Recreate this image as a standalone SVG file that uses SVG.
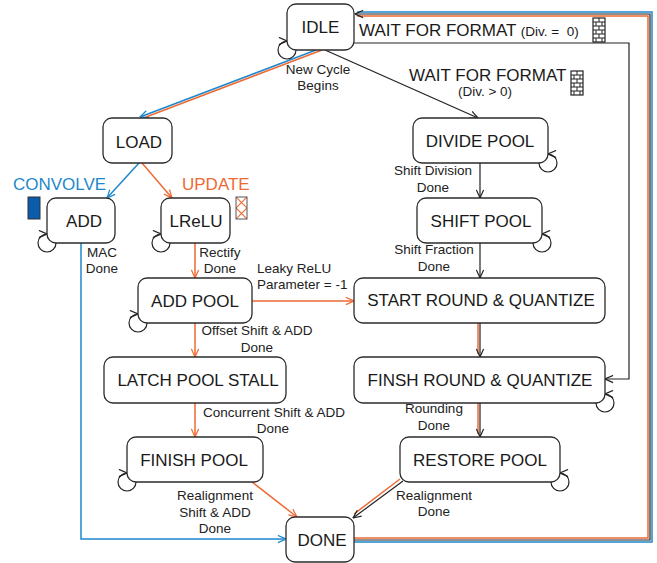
<svg xmlns="http://www.w3.org/2000/svg" width="657" height="563" viewBox="0 0 657 563">
  <style>
    .node rect { fill: #fff; stroke: #2b2b2b; stroke-width: 1.3; }
    .node text { font-family: "Liberation Sans", Arial, sans-serif; font-size: 17px; fill: #1a1a1a; text-anchor: middle; }
    .lbl { font-family: "Liberation Sans", Arial, sans-serif; font-size: 13.5px; fill: #222; text-anchor: middle; }
    .big { font-family: "Liberation Sans", Arial, sans-serif; font-size: 17px; fill: #1a1a1a; }
    .k { fill: none; stroke: #222; stroke-width: 1.2; }
    .b { fill: none; stroke: #1e88cc; stroke-width: 1.5; }
    .o { fill: none; stroke: #ee6a35; stroke-width: 1.5; }
    .brick line { stroke: #222; stroke-width: 1; }
  </style>
  <defs>
    <marker id="ak" viewBox="0 0 10 10" refX="9.5" refY="5" markerWidth="9" markerHeight="9" markerUnits="userSpaceOnUse" orient="auto">
      <path d="M0.5,1 L9.5,5 L0.5,9" fill="none" stroke="#222" stroke-width="1.3"/>
    </marker>
    <marker id="ab" viewBox="0 0 10 10" refX="9.5" refY="5" markerWidth="9" markerHeight="9" markerUnits="userSpaceOnUse" orient="auto">
      <path d="M0.5,1 L9.5,5 L0.5,9" fill="none" stroke="#1e88cc" stroke-width="1.4"/>
    </marker>
    <marker id="ao" viewBox="0 0 10 10" refX="9.5" refY="5" markerWidth="9" markerHeight="9" markerUnits="userSpaceOnUse" orient="auto">
      <path d="M0.5,1 L9.5,5 L0.5,9" fill="none" stroke="#ee6a35" stroke-width="1.4"/>
    </marker>
    <!-- brick-wall badge, 12 x 24 -->
    <g id="brick" class="brick">
      <rect x="0" y="0" width="12" height="24" fill="#fff" stroke="#222" stroke-width="1.2"/>
      <line x1="0" y1="4" x2="12" y2="4"/>
      <line x1="0" y1="8" x2="12" y2="8"/>
      <line x1="0" y1="12" x2="12" y2="12"/>
      <line x1="0" y1="16" x2="12" y2="16"/>
      <line x1="0" y1="20" x2="12" y2="20"/>
      <line x1="6" y1="0" x2="6" y2="4"/>
      <line x1="3" y1="4" x2="3" y2="8"/>
      <line x1="9" y1="4" x2="9" y2="8"/>
      <line x1="6" y1="8" x2="6" y2="12"/>
      <line x1="3" y1="12" x2="3" y2="16"/>
      <line x1="9" y1="12" x2="9" y2="16"/>
      <line x1="6" y1="16" x2="6" y2="20"/>
      <line x1="3" y1="20" x2="3" y2="24"/>
      <line x1="9" y1="20" x2="9" y2="24"/>
    </g>
    <clipPath id="hatchclip"><rect x="236" y="197" width="11" height="22"/></clipPath>
  </defs>

  <!-- connectors -->
  <g id="connectors">
    <!-- IDLE -> LOAD (new cycle) -->
    <line class="b" x1="316" y1="50" x2="140" y2="117" marker-end="url(#ab)"/>
    <line class="o" x1="322" y1="50" x2="146" y2="117"/>
    <!-- IDLE -> DIVIDE POOL -->
    <line class="k" x1="325" y1="50" x2="478" y2="118" marker-end="url(#ak)"/>
    <!-- IDLE -> FINSH ROUND (Div = 0) -->
    <path class="k" d="M354,43 H629 V379 H605" marker-end="url(#ak)"/>
    <!-- DONE -> IDLE return path -->
    <path class="b" d="M354,542 H652 V12 H357"/>
    <path class="o" d="M354,538 H648 V16 H357"/>
    <path class="k" d="M354,540 H650 V14 H355" marker-end="url(#ak)"/>
    <!-- LOAD -> ADD / LReLU -->
    <line class="b" x1="139" y1="163" x2="107" y2="198" marker-end="url(#ab)"/>
    <line class="o" x1="142" y1="163" x2="172" y2="198" marker-end="url(#ao)"/>
    <!-- ADD -> DONE -->
    <path class="b" d="M81,243 V539 H286" marker-end="url(#ab)"/>
    <!-- update chain -->
    <line class="o" x1="195" y1="243" x2="195" y2="278" marker-end="url(#ao)"/>
    <line class="o" x1="252" y1="301" x2="354" y2="301" marker-end="url(#ao)"/>
    <line class="o" x1="195" y1="323" x2="195" y2="357" marker-end="url(#ao)"/>
    <line class="o" x1="195" y1="403" x2="195" y2="437" marker-end="url(#ao)"/>
    <line class="o" x1="252" y1="482" x2="297" y2="517" marker-end="url(#ao)"/>
    <!-- pooling chain -->
    <line class="k" x1="480" y1="163" x2="480" y2="198" marker-end="url(#ak)"/>
    <line class="k" x1="480" y1="243" x2="480" y2="278" marker-end="url(#ak)"/>
    <line class="o" x1="478" y1="323" x2="478" y2="354"/>
    <line class="k" x1="480" y1="323" x2="480" y2="357" marker-end="url(#ak)"/>
    <line class="o" x1="478" y1="403" x2="478" y2="434"/>
    <line class="k" x1="480" y1="403" x2="480" y2="437" marker-end="url(#ak)"/>
    <line class="o" x1="400" y1="479" x2="354" y2="514"/>
    <line class="k" x1="403" y1="481" x2="353" y2="518" marker-end="url(#ak)"/>
    <!-- self loops -->
    <path class="k" d="M296,50 A9,9 0 1 1 287,41" marker-end="url(#ak)"/>
    <path class="k" d="M56,243 A9,9 0 1 1 47,234" marker-end="url(#ak)"/>
    <path class="k" d="M170,243 A9,9 0 1 1 161,234" marker-end="url(#ak)"/>
    <path class="k" d="M147,323 A9,9 0 1 1 138,314" marker-end="url(#ak)"/>
    <path class="k" d="M136,482 A9,9 0 1 1 127,473" marker-end="url(#ak)"/>
    <path class="k" d="M539,163 A9,9 0 1 0 548,154" marker-end="url(#ak)"/>
    <path class="k" d="M533,243 A9,9 0 1 0 542,234" marker-end="url(#ak)"/>
    <path class="k" d="M596,403 A9,9 0 1 0 605,394" marker-end="url(#ak)"/>
    <path class="k" d="M551,482 A9,9 0 1 0 560,473" marker-end="url(#ak)"/>
  </g>

  <!-- edge labels -->
  <g id="labels">
    <text class="lbl" x="318" y="74">New Cycle</text>
    <text class="lbl" x="318" y="90">Begins</text>
    <text class="big" x="359" y="36" xml:space="preserve">WAIT FOR FORMAT <tspan font-size="13.5">(Div. =  0)</tspan></text>
    <text class="big" x="409" y="81">WAIT FOR FORMAT</text>
    <text class="lbl" x="485" y="96">(Div. &gt; 0)</text>
    <use href="#brick" x="593" y="18"/>
    <use href="#brick" x="571" y="71"/>
    <text class="big" x="13" y="190" style="fill:#1e88cc">CONVOLVE</text>
    <text class="big" x="182" y="190" style="fill:#ee6a35">UPDATE</text>
    <rect x="28" y="197" width="12" height="22" fill="#0b5cad" stroke="#333" stroke-width="1"/>
    <g clip-path="url(#hatchclip)" stroke="#ee6a35" stroke-width="1.1">
      <path d="M236,197 L258,219 M236,208 L258,230 M236,186 L258,208 M247,197 L225,219 M247,208 L225,230 M247,186 L225,208 M247,219 L225,241 M236,219 L258,241"/>
    </g>
    <rect x="236" y="197" width="11" height="22" fill="none" stroke="#555" stroke-width="1"/>
    <text class="lbl" x="433" y="175">Shift Division</text>
    <text class="lbl" x="433" y="192">Done</text>
    <text class="lbl" x="434" y="254">Shift Fraction</text>
    <text class="lbl" x="434" y="271">Done</text>
    <text class="lbl" x="102" y="257">MAC</text>
    <text class="lbl" x="102" y="273">Done</text>
    <text class="lbl" x="220" y="257">Rectify</text>
    <text class="lbl" x="220" y="273">Done</text>
    <text class="lbl" x="257" y="273" style="text-anchor:start">Leaky ReLU</text>
    <text class="lbl" x="257" y="289" style="text-anchor:start">Parameter = -1</text>
    <text class="lbl" x="257" y="335">Offset Shift &amp; ADD</text>
    <text class="lbl" x="257" y="352">Done</text>
    <text class="lbl" x="274" y="417">Concurrent Shift &amp; ADD</text>
    <text class="lbl" x="273" y="433">Done</text>
    <text class="lbl" x="434" y="413">Rounding</text>
    <text class="lbl" x="434" y="430">Done</text>
    <text class="lbl" x="215" y="500">Realignment</text>
    <text class="lbl" x="215" y="517">Shift &amp; ADD</text>
    <text class="lbl" x="215" y="533">Done</text>
    <text class="lbl" x="434" y="500">Realignment</text>
    <text class="lbl" x="434" y="516">Done</text>
  </g>

  <!-- states -->
  <g id="idle" class="node"><rect x="287" y="4" width="67" height="46" rx="9"/><text x="320.5" y="33">IDLE</text></g>
  <g id="load" class="node"><rect x="103" y="118" width="69" height="45" rx="9"/><text x="139" y="148">LOAD</text></g>
  <g id="add" class="node"><rect x="47" y="198" width="68" height="45" rx="9"/><text x="84" y="227">ADD</text></g>
  <g id="lrelu" class="node"><rect x="161" y="198" width="69" height="45" rx="9"/><text x="196" y="227">LReLU</text></g>
  <g id="divide-pool" class="node"><rect x="413" y="118" width="135" height="45" rx="9"/><text x="480" y="147">DIVIDE POOL</text></g>
  <g id="shift-pool" class="node"><rect x="417" y="198" width="125" height="45" rx="9"/><text x="481" y="227">SHIFT POOL</text></g>
  <g id="add-pool" class="node"><rect x="138" y="278" width="114" height="45" rx="9"/><text x="195" y="307">ADD POOL</text></g>
  <g id="start-round" class="node"><rect x="354" y="278" width="251" height="45" rx="9"/><text x="481" y="306">START ROUND &amp; QUANTIZE</text></g>
  <g id="latch-pool-stall" class="node"><rect x="104" y="357" width="182" height="46" rx="9"/><text x="198" y="386">LATCH POOL STALL</text></g>
  <g id="finsh-round" class="node"><rect x="354" y="357" width="251" height="46" rx="9"/><text x="480" y="386">FINSH ROUND &amp; QUANTIZE</text></g>
  <g id="finish-pool" class="node"><rect x="127" y="437" width="136" height="45" rx="9"/><text x="194" y="466">FINISH POOL</text></g>
  <g id="restore-pool" class="node"><rect x="400" y="437" width="160" height="45" rx="9"/><text x="480" y="466">RESTORE POOL</text></g>
  <g id="done" class="node"><rect x="286" y="517" width="68" height="45" rx="9"/><text x="322" y="546">DONE</text></g>
</svg>
